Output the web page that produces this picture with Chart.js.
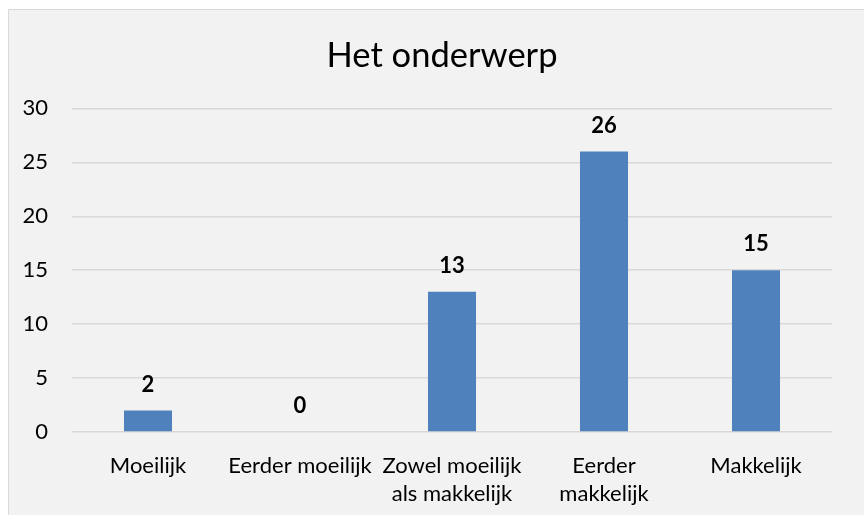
<!DOCTYPE html>
<html>
<head>
<meta charset="utf-8">
<script src="https://cdn.jsdelivr.net/npm/chart.js@4"></script>
<style>
  html, body { margin: 0; padding: 0; background: #fff; }
  #wrap {
    position: absolute; left: 8px; top: 9px; width: 856px; height: 506px;
    background: #f2f2f2; border-left: 1px solid #d9d9d9; border-top: 1px solid #d9d9d9;
    box-sizing: border-box;
  }
</style>
</head>
<body>
<div id="wrap"><canvas id="chart"></canvas></div>
<script>
// chart data
const categories = [
  "Moeilijk",
  "Eerder moeilijk",
  ["Zowel moeilijk", "als makkelijk"],
  ["Eerder", "makkelijk"],
  "Makkelijk"
];
const answers = [2, 0, 13, 26, 15];
const yTicks = [0, 5, 10, 15, 20, 25, 30];

const FONT = "Lato, 'Open Sans', sans-serif";

// draw the value above each bar
const valueLabels = {
  id: 'valueLabels',
  afterDatasetsDraw(chart) {
    const ctx = chart.ctx;
    const meta = chart.getDatasetMeta(0);
    ctx.save();
    ctx.font = "bold 22px " + FONT;
    ctx.fillStyle = "#000";
    ctx.textAlign = "center";
    ctx.textBaseline = "middle";
    meta.data.forEach((bar, i) => {
      ctx.fillText(String(answers[i]), bar.x, bar.y - 26);
    });
    ctx.restore();
  }
};

new Chart(document.querySelector("#chart"), {
  type: 'bar',
  data: {
    labels: categories,
    datasets: [{
      label: "Het onderwerp",
      data: answers,
      backgroundColor: "#4f81bd",
      borderWidth: 0,
      categoryPercentage: 1,
      barPercentage: 0.316
    }]
  },
  options: {
    responsive: true,
    maintainAspectRatio: false,
    animation: false,
    layout: { padding: { left: 11, right: 0, top: 0, bottom: 0 } },
    plugins: {
      legend: { display: false },
      tooltip: { enabled: false },
      title: {
        display: true,
        text: "Het onderwerp",
        color: "#000",
        font: { family: FONT, size: 34.5, weight: 'normal' },
        padding: { top: 25, bottom: 32 }
      }
    },
    scales: {
      x: {
        grid: { display: false },
        border: { display: false },
        afterFit(axis) { axis.height = 83; },
        ticks: {
          color: "#000",
          font: { family: FONT, size: 22, lineHeight: 1.27 },
          padding: 12,
          maxRotation: 0,
          autoSkip: false
        }
      },
      y: {
        min: 0,
        max: 30,
        afterBuildTicks(axis) { axis.ticks = yTicks.map(v => ({ value: v })); },
        afterFit(axis) { axis.width = 52; },
        grid: { color: "#d9d9d9", lineWidth: 1.5, drawTicks: false },
        border: { display: false },
        ticks: {
          color: "#000",
          font: { family: FONT, size: 22 },
          padding: 24
        }
      },
      // empty right margin, keeps the plot off the right edge
      yRight: {
        position: 'right',
        grid: { display: false },
        border: { display: false },
        ticks: { display: false },
        afterFit(axis) { axis.width = 32; }
      }
    }
  },
  plugins: [valueLabels]
});
</script>
</body>
</html>
